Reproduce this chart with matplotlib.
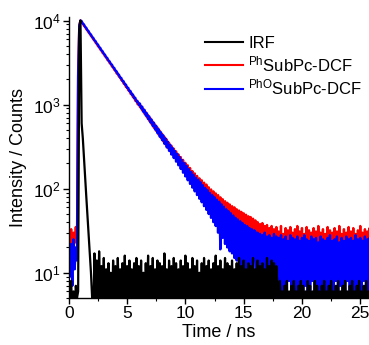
import numpy as np
import matplotlib
matplotlib.use('Agg')
import matplotlib.pyplot as plt
from matplotlib.ticker import MultipleLocator

plt.rcParams['font.family'] = ['Liberation Sans', 'DejaVu Sans']
plt.rcParams['mathtext.fontset'] = 'custom'
plt.rcParams['mathtext.rm'] = 'Liberation Sans'
plt.rcParams['mathtext.it'] = 'Liberation Sans:italic'
plt.rcParams['mathtext.bf'] = 'Liberation Sans:bold'

# channel width of the TCSPC histograms (ns)
step_ns = 0.1

# instrument response function
irf_counts = [
    7, 4, 8, 3, 6, 4, 7, 5, 6, 8000,
    10000, 600, 400, 230, 135, 80, 47, 28, 17, 10,
    5, 3,
    17, 4, 14, 3, 18, 5, 12, 4, 15, 3, 11, 4, 13, 5, 10, 3, 14, 4, 12, 3,
    15, 5, 11, 4, 13, 3, 16, 4, 12, 5, 14, 3, 11, 4, 13, 3, 15, 5, 12, 4,
    14, 3, 10, 4, 13, 5, 16, 3, 12, 4, 15, 3, 11, 5, 14, 4, 13, 3, 12, 4,
    17, 5, 11, 3, 14, 4, 12, 3, 15, 5, 13, 4, 11, 3, 14, 4, 12, 5, 16, 3,
    13, 4, 11, 3, 15, 4, 12, 5, 14, 3, 10, 4, 13, 3, 15, 5, 12, 4, 14, 3,
    11, 4, 13, 5, 16, 3, 12, 4, 14, 3, 11, 5, 15, 4, 13, 3, 12, 4, 14, 5,
    11, 3, 13, 4, 15, 3, 12, 4, 14, 5, 11, 3, 13, 4, 12, 3, 15, 4, 11, 5,
    14, 3, 12, 4, 13, 3, 11, 4, 15, 5, 12, 3, 14, 4, 13, 3, 12,
    7, 3, 8, 4, 6, 3, 7, 4, 8, 3, 6, 4, 7, 3, 8, 4, 6, 3, 7, 4,
    8, 3, 7, 4, 6, 3, 8, 4, 7, 3, 6, 4, 8, 3, 7, 4, 6, 3, 7, 4,
    8, 3, 6, 4, 7, 3, 8, 4, 6, 3, 7, 4, 8, 3, 6, 4, 7, 3, 8, 4,
    6, 3, 7, 4, 8, 3, 6, 4, 7, 3, 8, 4, 6, 3, 7, 4, 8, 3, 6, 4,
    7, 3,
]

# PhSubPc-DCF
ph_counts = [
    28, 21, 33, 19, 30, 23, 35, 22, 2500, 8800,
    10020, 9480, 9210, 8650, 8400, 7880, 7650, 7190, 6990, 6540,
    6380, 5960, 5820, 5440, 5310, 4950, 4850, 4520, 4420, 4110,
    4040, 3750, 3690, 3410, 3360, 3120, 3070, 2840, 2800, 2590,
    2560, 2350, 2340, 2150, 2130, 1960, 1950, 1780, 1780, 1620,
    1625, 1480, 1490, 1340, 1360, 1225, 1245, 1110, 1135, 1010,
    1050, 935, 965, 850, 890, 775, 815, 705, 750, 640,
    690, 585, 630, 530, 580, 485, 535, 440, 490, 400,
    450, 365, 415, 335, 385, 305, 352, 278, 325, 255,
    300, 232, 278, 212, 256, 193, 238, 178, 220, 162,
    203, 149, 190, 136, 176, 125, 162, 114, 152, 104,
    142, 95, 133, 87, 126, 80, 118, 73, 112, 68,
    104, 62, 98, 57, 93, 53, 88, 49, 84, 45,
    79, 42, 75, 39, 71, 36, 68, 33, 65, 31,
    62, 29, 60, 27, 57, 26, 55, 24, 53, 23,
    51, 22, 49, 21, 47, 20, 46, 19, 44, 18,
    42, 17, 40, 16, 38, 15, 39, 14, 36, 16,
    37, 13, 34, 15, 36, 12, 33, 14, 35, 11, 31, 16, 36, 13, 29, 12, 34, 15, 32, 10,
    35, 14, 30, 12, 33, 13, 36, 11, 31, 15, 34, 12, 29, 14, 35, 10, 32, 13, 30, 16,
    34, 12, 31, 11, 36, 14, 30, 13, 33, 12, 29, 15, 35, 11, 32, 14, 30, 12, 34, 13,
    31, 10, 36, 15, 29, 12, 33, 14, 30, 11, 35, 13, 31, 12, 34, 15, 29, 11, 32, 14,
    36, 12, 30, 13, 33, 12, 31, 14, 34, 11,
]

# PhOSubPc-DCF
pho_counts = [
    18, 9, 22, 7, 25, 11, 20, 14, 2200, 8700,
    10000, 9850, 9200, 8990, 8390, 8200, 7650, 7480, 6970, 6830,
    6360, 6220, 5800, 5680, 5290, 5180, 4820, 4730, 4400, 4310,
    4010, 3930, 3650, 3590, 3330, 3270, 3040, 2990, 2770, 2730,
    2520, 2490, 2300, 2270, 2090, 2075, 1905, 1895, 1735, 1730,
    1580, 1580, 1440, 1445, 1310, 1318, 1195, 1205, 1088, 1100,
    990, 1030, 900, 945, 815, 865, 740, 790, 672, 725,
    612, 665, 555, 610, 505, 558, 458, 512, 415, 470,
    378, 432, 342, 396, 310, 362, 282, 332, 255, 305,
    232, 282, 210, 260, 190, 238, 172, 220, 155, 202,
    140, 186, 126, 171, 114, 158, 103, 146, 93, 135,
    84, 128, 76, 119, 69, 110, 62, 102, 56, 96,
    50, 89, 45, 84, 40, 79, 36, 74, 30, 70,
    19, 65, 26, 61, 22, 57, 20, 54, 18, 51,
    17, 48, 15, 45, 14, 43, 13, 41, 12, 39,
    11, 37, 10, 36, 9, 34, 8, 33, 7, 32,
    31, 6, 30, 8, 29, 5, 28, 7, 30, 6, 27, 8, 28, 5, 26, 7, 29, 6, 27, 4,
    26, 8, 28, 5, 25, 7, 27, 6, 24, 8, 28, 5, 26, 7, 25, 4, 27, 6, 24, 8,
    26, 5, 28, 7, 25, 6, 24, 4, 27, 8, 25, 5, 26, 7, 23, 6, 27, 4, 25, 8,
    24, 5, 26, 7, 28, 6, 24, 4, 25, 8, 27, 5, 23, 7, 26, 6, 24, 4, 27, 8,
    25, 5, 26, 7, 24, 6, 28, 4, 25, 7, 26, 5, 24, 8, 27, 6, 25, 5, 26, 7,
]

labels = ['IRF', r'$^{\mathrm{Ph}}$SubPc-DCF', r'$^{\mathrm{PhO}}$SubPc-DCF']
colors = ['black', '#ff0000', '#0000ff']

t_irf = np.arange(len(irf_counts)) * step_ns
t_ph = np.arange(len(ph_counts)) * step_ns
t_pho = np.arange(len(pho_counts)) * step_ns

fig = plt.figure(figsize=(3.69, 3.45), dpi=100)
ax = fig.add_axes([0.1865, 0.136, 0.8135, 0.8145])

# draw red, then blue, IRF on top
l_ph, = ax.plot(t_ph, ph_counts, color=colors[1], lw=1.7, label=labels[1])
l_pho, = ax.plot(t_pho, pho_counts, color=colors[2], lw=1.7, label=labels[2])
l_irf, = ax.plot(t_irf, irf_counts, color=colors[0], lw=1.6, label=labels[0])

ax.set_yscale('log')
ax.set_xlim(0, 25.75)
ax.set_ylim(5, 11000)
ax.xaxis.set_major_locator(MultipleLocator(5))
ax.xaxis.set_minor_locator(MultipleLocator(2.5))

ax.spines['top'].set_visible(False)
ax.spines['right'].set_visible(False)
for s in ['left', 'bottom']:
    ax.spines[s].set_linewidth(1.0)

ax.tick_params(which='major', direction='out', length=4, width=1, labelsize=12.5, pad=2)
ax.tick_params(which='minor', direction='out', length=2.2, width=0.8)

ax.set_xlabel('Time / ns', fontsize=13, labelpad=2)
ax.set_ylabel('Intensity / Counts', fontsize=13, labelpad=4)

leg = ax.legend([l_irf, l_ph, l_pho], labels, loc='upper left',
                bbox_to_anchor=(0.454, 0.934), frameon=False, fontsize=12,
                handlelength=2.3, handletextpad=0.3, labelspacing=0.22,
                borderaxespad=0, borderpad=0)
for h in leg.get_lines():
    h.set_linewidth(1.5)

fig.savefig('out.png', dpi=100)
